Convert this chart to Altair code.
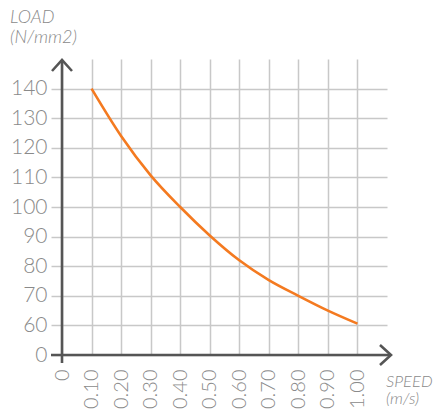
import altair as alt
import pandas as pd

# data
speed = [0.10, 0.20, 0.30, 0.40, 0.50, 0.60, 0.70, 0.80, 0.90, 1.00]
load = [140, 124, 110.7, 100, 90.4, 82, 75.3, 70, 65, 60.6]
x_ticks = [0, 0.1, 0.2, 0.3, 0.4, 0.5, 0.6, 0.7, 0.8, 0.9, 1.0]
y_ticks = [50, 60, 70, 80, 90, 100, 110, 120, 130, 140]  # 50 is shown as the broken-axis "0"

W, H = 325, 296
AXIS = "#555555"
GRID = "#c8c8c8"
TXT = "#8a8a8a"
FONT = "Lato"

df = pd.DataFrame({"speed": speed, "load": load})

xs = alt.Scale(domain=[0, 1.1], nice=False, zero=False)
ys = alt.Scale(domain=[50, 150], nice=False, zero=False)

xaxis = alt.Axis(values=x_ticks, grid=True, gridColor=GRID, gridWidth=1.5,
                 domain=False, ticks=False, labelAngle=-90, labelPadding=14,
                 labelFontSize=20, labelColor=TXT, labelFont=FONT, labelFontWeight=300,
                 labelExpr="datum.value == 0 ? '0' : format(datum.value, '.2f')",
                 title=None, labelOverlap=False)
yaxis = alt.Axis(values=y_ticks, grid=True, gridColor=GRID, gridWidth=1.5,
                 domain=False, ticks=True, tickSize=11, tickColor=GRID, tickWidth=1.5,
                 labelPadding=4, labelFontSize=21, labelColor=TXT, labelFont=FONT,
                 labelFontWeight=300,
                 labelExpr="datum.value == 50 ? '0' : datum.label",
                 title=None, labelOverlap=False)

line = alt.Chart(df).mark_line(color="#f47a20", strokeWidth=2.6, interpolate="monotone").encode(
    x=alt.X("speed:Q", scale=xs, axis=xaxis),
    y=alt.Y("load:Q", scale=ys, axis=yaxis),
)

one = alt.Chart(pd.DataFrame({"a": [0]}))

yline = one.mark_rule(color=AXIS, strokeWidth=2.6).encode(
    x=alt.value(0), y=alt.value(1), y2=alt.value(H + 8))
xline = one.mark_rule(color=AXIS, strokeWidth=2.6).encode(
    y=alt.value(H), x=alt.value(-11), x2=alt.value(W + 3.5))

chev = "M-1,1.1L0,0L1,1.1"
yarrow = one.mark_point(shape=chev, filled=False, stroke=AXIS, strokeWidth=2.6,
                        size=400, opacity=1).encode(x=alt.value(0), y=alt.value(1))
xarrow = one.mark_point(shape=chev, filled=False, stroke=AXIS, strokeWidth=2.6,
                        size=400, opacity=1, angle=90).encode(x=alt.value(W + 4), y=alt.value(H))

def label(txt, x, y, size):
    return one.mark_text(text=txt, align="left", baseline="alphabetic", fontStyle="italic",
                         fontSize=size, color=TXT, font=FONT, fontWeight=300).encode(
        x=alt.value(x), y=alt.value(y))

titles = [
    label("LOAD", -52, -36, 18),
    label("(N/mm2)", -52, -16, 18),
    label("SPEED", W - 1, H + 32, 16.5),
    label("(m/s)", W - 1, H + 49, 16.5),
]

chart = alt.layer(line, yline, xline, yarrow, xarrow, *titles).properties(
    width=W, height=H,
    autosize=alt.AutoSizeParams(type="none"),
    padding={"left": 54, "top": 51, "right": 46, "bottom": 57},
).configure_view(strokeWidth=0)

chart.save("out.html", embed_options={"renderer": "svg", "actions": False})
